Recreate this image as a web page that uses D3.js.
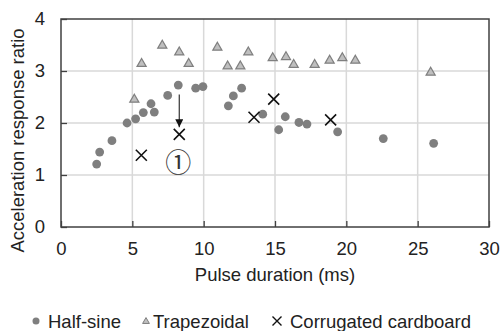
<!DOCTYPE html>
<html>
<head>
<meta charset="utf-8">
<script src="https://cdn.jsdelivr.net/npm/d3@7"></script>
<style>
  body { margin: 0; background: #fff; }
  svg { display: block; font-family: "Liberation Sans", Arial, sans-serif; }
</style>
</head>
<body>
<div id="chart"></div>
<script>
// half-sine pulses
const halfSineX = [2.5, 2.71, 3.57, 4.63, 5.23, 5.77, 6.31, 6.54, 7.48, 8.22, 9.44, 9.95, 11.73, 12.08, 12.66, 14.14, 15.26, 15.72, 16.68, 17.24, 19.39, 22.59, 26.12];
const halfSineY = [1.21, 1.44, 1.66, 2.0, 2.08, 2.2, 2.37, 2.21, 2.53, 2.73, 2.67, 2.7, 2.33, 2.52, 2.67, 2.17, 1.87, 2.12, 2.01, 1.98, 1.83, 1.7, 1.61];
// trapezoidal pulses
const trapX = [5.14, 5.65, 7.1, 8.29, 8.95, 10.96, 11.68, 12.57, 13.13, 14.84, 15.77, 16.31, 17.78, 18.83, 19.72, 20.63, 25.91];
const trapY = [2.46, 3.15, 3.5, 3.37, 3.15, 3.46, 3.1, 3.1, 3.37, 3.26, 3.28, 3.13, 3.13, 3.21, 3.26, 3.21, 2.98];
// corrugated cardboard
const cardX = [5.63, 8.29, 13.53, 14.91, 18.9];
const cardY = [1.38, 1.78, 2.11, 2.46, 2.06];

const xTicks = [0, 5, 10, 15, 20, 25, 30];
const yTicks = [0, 1, 2, 3, 4];
const seriesNames = ["Half-sine", "Trapezoidal", "Corrugated cardboard"];

// annotation: arrow from the half-sine point down to the cardboard point
const arrowFrom = [8.29, 2.55];
const arrowTo = [8.29, 1.92];
const noteAt = [8.22, 1.27];

const W = 502, H = 331;
const margin = { top: 19, right: 13, bottom: 104, left: 61 };
const width = W - margin.left - margin.right;
const height = H - margin.top - margin.bottom;

const svg = d3.select("#chart").append("svg")
  .attr("width", W)
  .attr("height", H);

const g = svg.append("g")
  .attr("transform", `translate(${margin.left},${margin.top})`);

const x = d3.scaleLinear().domain([0, 30]).range([0, width]);
const y = d3.scaleLinear().domain([0, 4]).range([height, 0]);

// grid
g.append("g").selectAll("line")
  .data(xTicks.slice(1, -1))
  .join("line")
  .attr("x1", d => x(d)).attr("x2", d => x(d))
  .attr("y1", 0).attr("y2", height)
  .attr("stroke", "#d9d9d9").attr("stroke-width", 1.5);
g.append("g").selectAll("line")
  .data(yTicks.slice(1, -1))
  .join("line")
  .attr("x1", 0).attr("x2", width)
  .attr("y1", d => y(d)).attr("y2", d => y(d))
  .attr("stroke", "#d9d9d9").attr("stroke-width", 1.5);

// axes with inside ticks
const xAxis = g.append("g")
  .attr("transform", `translate(0,${height})`)
  .call(d3.axisBottom(x).tickValues(xTicks).tickFormat(d3.format("d"))
    .tickSizeInner(-6).tickSizeOuter(0).tickPadding(15));
const yAxis = g.append("g")
  .call(d3.axisLeft(y).tickValues(yTicks).tickFormat(d3.format("d"))
    .tickSizeInner(-6).tickSizeOuter(0).tickPadding(16));

[xAxis, yAxis].forEach(a => {
  a.select(".domain").remove();
  a.selectAll(".tick line").attr("stroke", "#404040").attr("stroke-width", 1.3);
  a.selectAll(".tick text")
    .attr("fill", "#222")
    .style("font-size", "18.5px")
    .style("font-family", "Liberation Sans, Arial, sans-serif");
});

// frame
g.append("rect")
  .attr("x", 0).attr("y", 0)
  .attr("width", width).attr("height", height)
  .attr("fill", "none")
  .attr("stroke", "#404040")
  .attr("stroke-width", 1.5);

// axis titles
svg.append("text")
  .attr("x", margin.left + width / 2)
  .attr("y", 281)
  .attr("text-anchor", "middle")
  .style("font-size", "18.5px")
  .attr("fill", "#222")
  .text("Pulse duration (ms)");

svg.append("text")
  .attr("transform", `translate(24,${(23 + 258) / 2}) rotate(-90)`)
  .attr("text-anchor", "middle")
  .style("font-size", "18.5px")
  .attr("fill", "#222")
  .text("Acceleration response ratio");

const triangle = d3.symbol().type(d3.symbolTriangle);
const cross = s => `M${-s},${-s}L${s},${s}M${-s},${s}L${s},${-s}`;

// half-sine
g.append("g").selectAll("circle")
  .data(halfSineX.map((d, i) => [d, halfSineY[i]]))
  .join("circle")
  .attr("cx", d => x(d[0]))
  .attr("cy", d => y(d[1]))
  .attr("r", 4.4)
  .attr("fill", "#7f7f7f");

// trapezoidal
g.append("g").selectAll("path")
  .data(trapX.map((d, i) => [d, trapY[i]]))
  .join("path")
  .attr("transform", d => `translate(${x(d[0])},${y(d[1]) + 0.5})`)
  .attr("d", triangle.size(36))
  .attr("fill", "#bfbfbf")
  .attr("stroke", "#7f7f7f")
  .attr("stroke-width", 1.2);

// corrugated cardboard
g.append("g").selectAll("path")
  .data(cardX.map((d, i) => [d, cardY[i]]))
  .join("path")
  .attr("transform", d => `translate(${x(d[0])},${y(d[1])})`)
  .attr("d", cross(5.5))
  .attr("fill", "none")
  .attr("stroke", "#111")
  .attr("stroke-width", 1.6);

// annotation arrow
svg.append("defs").append("marker")
  .attr("id", "head")
  .attr("viewBox", "0 0 10 10")
  .attr("refX", 10).attr("refY", 5)
  .attr("markerWidth", 8).attr("markerHeight", 8)
  .attr("markerUnits", "userSpaceOnUse")
  .attr("orient", "auto")
  .append("path")
  .attr("d", "M0,0L10,5L0,10Z")
  .attr("fill", "#111");

g.append("line")
  .attr("x1", x(arrowFrom[0])).attr("y1", y(arrowFrom[1]))
  .attr("x2", x(arrowTo[0])).attr("y2", y(arrowTo[1]))
  .attr("stroke", "#333")
  .attr("stroke-width", 1.2)
  .attr("marker-end", "url(#head)");

g.append("text")
  .attr("x", x(noteAt[0]))
  .attr("y", y(noteAt[1]))
  .attr("text-anchor", "middle")
  .attr("dominant-baseline", "central")
  .style("font-family", "Noto Sans CJK JP, DejaVu Sans, sans-serif")
  .style("font-size", "26px")
  .attr("fill", "#333")
  .text("①");

// legend
const legendY = 321;
const legendX = [36, 146, 277];
const legendTextX = [48, 153, 290];
const leg = svg.append("g");
leg.append("circle")
  .attr("cx", legendX[0]).attr("cy", legendY).attr("r", 3.5)
  .attr("fill", "#7f7f7f");
leg.append("path")
  .attr("transform", `translate(${legendX[1]},${legendY + 0.5})`)
  .attr("d", d3.symbol().type(d3.symbolTriangle).size(20)())
  .attr("fill", "#bfbfbf").attr("stroke", "#7f7f7f").attr("stroke-width", 1);
leg.append("path")
  .attr("transform", `translate(${legendX[2]},${legendY})`)
  .attr("d", cross(4.5))
  .attr("stroke", "#111").attr("stroke-width", 1.4).attr("fill", "none");
leg.selectAll("text")
  .data(seriesNames)
  .join("text")
  .attr("x", (d, i) => legendTextX[i])
  .attr("y", legendY + 7)
  .style("font-size", "18.5px")
  .attr("fill", "#222")
  .text(d => d);
</script>
</body>
</html>
